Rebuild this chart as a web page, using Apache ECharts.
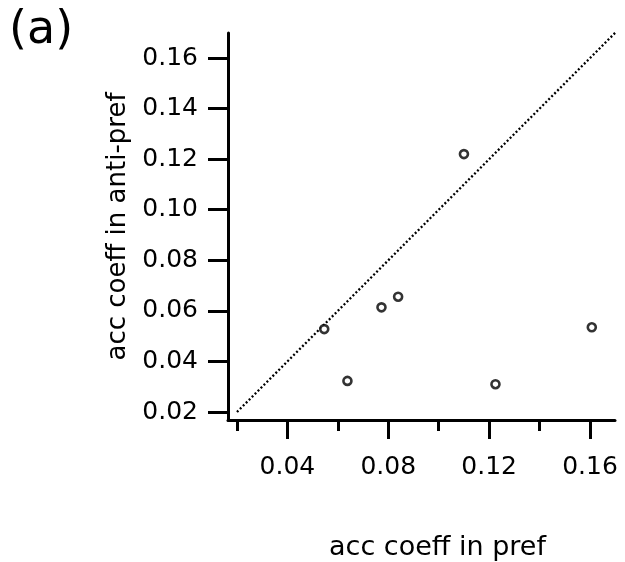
<!DOCTYPE html>
<html>
<head>
<meta charset="utf-8">
<script src="https://cdn.jsdelivr.net/npm/echarts@6/dist/echarts.min.js"></script>
<style>
html,body{margin:0;padding:0;background:#fff;}
#chart{width:625px;height:562px;}
</style>
</head>
<body>
<div id="chart"></div>
<script>
// data
var prefCoeff = [0.0546, 0.0638, 0.0773, 0.0839, 0.1100, 0.1225, 0.1607];
var antiCoeff = [0.0528, 0.0323, 0.0614, 0.0656, 0.1220, 0.0310, 0.0535];
var diagX = [0.02, 0.17];
var diagY = [0.02, 0.17];
var yTicks = [0.02, 0.04, 0.06, 0.08, 0.10, 0.12, 0.14, 0.16];
var xMajorTicks = [0.04, 0.08, 0.12, 0.16];
var xMinorTicks = [0.02, 0.06, 0.10, 0.14];
var panelLabel = '(a)';
var xTitle = 'acc coeff in pref';
var yTitle = 'acc coeff in anti-pref';

var FONT = 'DejaVu Sans';
var xMin = 0.01644, xMax = 0.1699;
var yMin = 0.01684, yMax = 0.1699;

var points = prefCoeff.map(function (x, i) { return [x, antiCoeff[i]]; });
var diag = diagX.map(function (x, i) { return [x, diagY[i]]; });
var fmt = function (v) { return Number(v).toFixed(2); };

var chart = echarts.init(document.getElementById('chart'), null, {renderer: 'canvas'});
chart.setOption({
  animation: false,
  backgroundColor: '#ffffff',
  title: {
    text: panelLabel,
    left: 4,
    top: 3,
    textStyle: {fontFamily: FONT, fontSize: 46, fontWeight: 'normal', color: '#000'}
  },
  grid: {left: 228, top: 33, right: 10, bottom: 142, containLabel: false, outerBoundsMode: 'none'},
  xAxis: [{
    type: 'value',
    min: xMin, max: xMax,
    position: 'bottom',
    name: xTitle,
    nameLocation: 'middle',
    nameGap: 114,
    nameTextStyle: {fontFamily: FONT, fontSize: 27, color: '#000', padding: [0, 0, 0, 32]},
    splitLine: {show: false},
    axisLine: {show: true, lineStyle: {color: '#000', width: 3}},
    axisTick: {show: true, inside: false, length: 19, customValues: xMajorTicks, lineStyle: {color: '#000', width: 3}},
    axisLabel: {show: true, customValues: xMajorTicks, margin: 35, formatter: fmt,
      fontFamily: FONT, fontSize: 25, color: '#000'}
  }, {
    type: 'value',
    min: xMin, max: xMax,
    position: 'bottom',
    splitLine: {show: false},
    axisLine: {show: false},
    axisTick: {show: true, inside: false, length: 11, customValues: xMinorTicks, lineStyle: {color: '#000', width: 3}},
    axisLabel: {show: false}
  }],
  yAxis: [{
    type: 'value',
    min: yMin, max: yMax,
    position: 'left',
    name: yTitle,
    nameLocation: 'middle',
    nameRotate: 90,
    nameGap: 97,
    nameTextStyle: {fontFamily: FONT, fontSize: 26, color: '#000'},
    splitLine: {show: false},
    axisLine: {show: true, lineStyle: {color: '#000', width: 3}},
    axisTick: {show: true, inside: false, length: 20, customValues: yTicks, lineStyle: {color: '#000', width: 3}},
    axisLabel: {show: true, customValues: yTicks, margin: 30, formatter: fmt,
      fontFamily: FONT, fontSize: 25, color: '#000'}
  }],
  series: [{
    type: 'line',
    xAxisIndex: 0,
    yAxisIndex: 0,
    data: diag,
    symbol: 'none',
    silent: true,
    lineStyle: {color: '#000', width: 2.3, type: [2, 2.2]},
    z: 1
  }, {
    type: 'scatter',
    xAxisIndex: 0,
    yAxisIndex: 0,
    data: points,
    symbol: 'circle',
    symbolSize: 8,
    itemStyle: {color: '#fff', borderColor: '#000', borderWidth: 2.6},
    z: 3
  }]
});
</script>
</body>
</html>
